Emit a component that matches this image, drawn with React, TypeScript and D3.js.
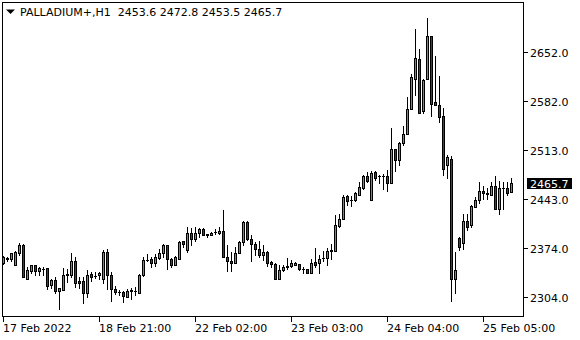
import React from "react";
import * as d3 from "d3";

const SYMBOL = "PALLADIUM+,H1";
const LAST_OHLC = ["2453.6", "2472.8", "2453.5", "2465.7"];

const OPEN = [
  2351.5, 2358.2, 2358.2, 2349.6, 2366.7, 2377.2, 2329.7, 2341.1, 2348.7, 2341.1,
  2343.0, 2344.9, 2321.1, 2327.8, 2311.6, 2313.5, 2335.4, 2334.4, 2354.4, 2326.8,
  2326.8, 2309.7, 2336.3, 2333.0, 2335.4, 2329.7, 2367.7, 2334.4, 2315.4, 2310.2,
  2310.7, 2304.0, 2311.6, 2312.6, 2309.7, 2335.4, 2356.3, 2357.2, 2352.5, 2359.1,
  2366.7, 2377.2, 2357.2, 2349.6, 2358.2, 2382.8, 2370.5, 2394.3, 2385.7, 2394.3,
  2399.9, 2392.4, 2392.4, 2395.7, 2395.2, 2398.0, 2360.1, 2355.3, 2351.5, 2365.8,
  2381.9, 2410.4, 2386.7, 2379.1, 2372.4, 2362.9, 2367.7, 2353.4, 2350.6, 2328.7,
  2342.0, 2345.8, 2347.7, 2349.6, 2350.6, 2343.0, 2343.0, 2337.3, 2353.4, 2351.5,
  2358.8, 2359.1, 2369.6, 2369.6, 2404.7, 2415.1, 2447.4, 2441.5, 2441.7, 2449.3,
  2458.8, 2475.9, 2441.7, 2481.6, 2475.9, 2475.7, 2475.9, 2466.4, 2513.9, 2498.7,
  2523.4, 2535.7, 2571.8, 2614.5, 2642.0, 2568.9, 2613.5, 2675.2, 2581.3, 2576.5,
  2561.3, 2491.1, 2499.6, 2329.7, 2387.6, 2380.0, 2411.4, 2405.7, 2432.2, 2441.7,
  2454.1, 2450.3, 2449.3, 2461.7, 2429.4, 2458.6, 2458.8, 2453.6,
];
const HIGH = [
  2362.0, 2361.0, 2366.7, 2369.6, 2381.0, 2379.1, 2345.8, 2349.6, 2349.6, 2345.8,
  2345.8, 2344.9, 2329.7, 2332.5, 2316.4, 2344.9, 2343.0, 2365.8, 2360.1, 2332.5,
  2332.5, 2342.0, 2339.2, 2339.2, 2339.2, 2370.5, 2372.4, 2339.2, 2319.2, 2313.5,
  2311.6, 2315.4, 2316.4, 2318.3, 2336.3, 2361.0, 2364.8, 2361.0, 2364.8, 2372.4,
  2379.1, 2377.2, 2359.1, 2362.0, 2382.8, 2383.8, 2403.7, 2401.8, 2403.7, 2401.8,
  2401.8, 2393.3, 2396.1, 2400.9, 2402.8, 2427.5, 2377.2, 2367.7, 2374.3, 2383.8,
  2411.3, 2411.3, 2391.4, 2381.9, 2382.8, 2377.2, 2369.6, 2355.3, 2351.5, 2348.7,
  2348.7, 2359.1, 2356.3, 2353.4, 2350.6, 2346.8, 2344.0, 2357.2, 2373.4, 2362.9,
  2368.6, 2373.4, 2379.1, 2420.8, 2421.8, 2448.4, 2448.4, 2447.4, 2453.1, 2467.3,
  2476.8, 2481.6, 2483.5, 2483.5, 2477.8, 2478.7, 2484.4, 2544.2, 2514.8, 2524.3,
  2547.1, 2587.9, 2621.1, 2685.7, 2656.3, 2613.5, 2700.9, 2675.2, 2646.8, 2618.3,
  2572.7, 2505.3, 2504.4, 2367.7, 2389.5, 2421.8, 2421.8, 2435.1, 2445.5, 2467.4,
  2461.7, 2458.8, 2467.4, 2475.9, 2468.3, 2467.4, 2467.4, 2472.8,
];
const LOW = [
  2350.6, 2355.3, 2355.3, 2349.6, 2363.9, 2332.5, 2329.7, 2338.2, 2335.4, 2335.4,
  2335.4, 2315.4, 2316.4, 2308.8, 2286.9, 2313.5, 2324.9, 2332.5, 2317.3, 2316.4,
  2295.5, 2303.1, 2326.8, 2330.6, 2329.7, 2323.0, 2315.4, 2298.3, 2307.8, 2305.9,
  2296.4, 2304.0, 2301.2, 2306.9, 2309.7, 2333.5, 2354.4, 2346.8, 2347.7, 2358.2,
  2360.1, 2343.9, 2345.8, 2349.6, 2358.2, 2375.3, 2367.7, 2377.2, 2383.8, 2389.5,
  2391.4, 2389.5, 2391.4, 2393.3, 2393.3, 2360.1, 2340.1, 2340.1, 2351.5, 2365.8,
  2378.1, 2384.8, 2355.3, 2363.9, 2361.0, 2356.3, 2347.7, 2345.8, 2328.7, 2328.7,
  2341.1, 2344.0, 2346.8, 2349.6, 2342.1, 2338.3, 2337.3, 2337.3, 2346.8, 2338.3,
  2354.4, 2349.6, 2358.2, 2369.6, 2403.8, 2415.1, 2435.1, 2433.2, 2439.8, 2449.3,
  2457.9, 2467.3, 2441.7, 2470.2, 2466.4, 2456.9, 2455.0, 2466.4, 2483.5, 2492.0,
  2519.6, 2535.7, 2571.8, 2590.8, 2565.1, 2565.1, 2613.5, 2561.3, 2576.5, 2552.8,
  2476.9, 2473.1, 2297.5, 2309.8, 2370.5, 2371.5, 2399.0, 2403.8, 2431.3, 2437.9,
  2443.6, 2442.7, 2448.4, 2429.4, 2421.8, 2429.4, 2448.4, 2453.5,
];
const CLOSE = [
  2360.1, 2359.1, 2365.8, 2367.7, 2377.2, 2332.5, 2342.0, 2348.7, 2341.1, 2344.9,
  2343.4, 2319.2, 2327.8, 2311.6, 2316.4, 2334.4, 2335.9, 2354.4, 2324.0, 2324.0,
  2309.7, 2335.4, 2332.5, 2333.3, 2337.3, 2367.7, 2334.4, 2315.4, 2310.7, 2310.5,
  2305.0, 2312.6, 2313.5, 2312.8, 2335.4, 2356.3, 2356.6, 2352.5, 2360.1, 2365.8,
  2377.2, 2357.2, 2349.6, 2360.1, 2381.9, 2379.1, 2394.3, 2386.7, 2394.3, 2399.9,
  2392.4, 2392.6, 2395.2, 2395.9, 2398.0, 2360.1, 2355.3, 2351.5, 2366.7, 2381.9,
  2410.4, 2386.7, 2379.1, 2372.4, 2362.9, 2367.7, 2352.5, 2350.6, 2328.7, 2342.0,
  2345.8, 2347.7, 2351.5, 2352.5, 2343.0, 2343.2, 2338.3, 2352.5, 2349.6, 2358.2,
  2359.1, 2369.6, 2369.8, 2405.7, 2415.1, 2446.5, 2440.8, 2441.7, 2451.2, 2459.8,
  2475.9, 2469.2, 2479.7, 2473.0, 2476.1, 2475.9, 2466.4, 2513.9, 2498.7, 2522.4,
  2535.7, 2570.8, 2616.4, 2643.9, 2565.1, 2612.6, 2675.2, 2578.4, 2576.5, 2560.4,
  2486.4, 2502.5, 2329.7, 2342.1, 2374.3, 2411.4, 2403.8, 2433.2, 2441.7, 2454.1,
  2451.2, 2452.2, 2461.7, 2429.4, 2458.8, 2458.8, 2452.2, 2465.7,
];

const Y_TICKS = [2652.0, 2582.0, 2513.0, 2443.0, 2374.0, 2304.0];
const X_TICK_INDEX = [0, 24, 48, 72, 96, 120];
const X_TICK_LABELS = [
  "17 Feb 2022",
  "18 Feb 21:00",
  "22 Feb 02:00",
  "23 Feb 03:00",
  "24 Feb 04:00",
  "25 Feb 05:00",
];
const CURRENT_PRICE = 2465.7;

const W = 580;
const H = 340;
const FRAME = { left: 2, top: 2, right: 523, bottom: 316 };
const UP = "#00DD00";
const DOWN = "#DD0000";
const FONT = "'DejaVu Sans', Tahoma, sans-serif";

export default function App() {
  const x = d3.scaleLinear().domain([0, OPEN.length - 1]).range([3.5, 511.5]);
  const y = d3.scaleLinear().domain([2304, 2652]).range([296.7, 52.3]);

  const candles = OPEN.map((o, i) => {
    const c = CLOSE[i];
    const xc = x(i);
    const yH = Math.round(y(HIGH[i]));
    const yL = Math.round(y(LOW[i]));
    const top = Math.round(y(Math.max(o, c)));
    const bot = Math.round(y(Math.min(o, c)));
    const up = c >= o;
    return (
      <g key={i}>
        <rect x={xc - 0.5} y={yH} width={1} height={yL - yH + 1} fill="#000" />
        <rect x={xc - 1.5} y={top} width={3} height={bot - top + 1} fill="#000" />
        {bot - top >= 2 && (
          <rect x={xc - 0.5} y={top + 1} width={1} height={bot - top - 1} fill={up ? UP : DOWN} />
        )}
      </g>
    );
  });

  const cy = Math.round(y(CURRENT_PRICE));

  return (
    <svg
      width={W}
      height={H}
      style={{ position: "absolute", left: 0, top: 0, background: "#fff" }}
      shapeRendering="crispEdges"
      fontFamily={FONT}
      fontSize={11}
    >
      <rect x={0} y={0} width={W} height={H} fill="#fff" />
      {candles}
      <rect
        x={FRAME.left + 0.5}
        y={FRAME.top + 0.5}
        width={FRAME.right - FRAME.left}
        height={FRAME.bottom - FRAME.top}
        fill="none"
        stroke="#000"
      />
      {Y_TICKS.map((v) => {
        const ty = Math.round(y(v));
        return (
          <g key={v}>
            <rect x={FRAME.right + 1} y={ty} width={4} height={1} fill="#000" />
            <text x={530} y={ty + 4.5} fill="#000">
              {v.toFixed(1)}
            </text>
          </g>
        );
      })}
      <rect x={527} y={cy - 5} width={45} height={11} fill="#000" />
      <text x={530} y={cy + 4.5} fill="#fff">
        {CURRENT_PRICE.toFixed(1)}
      </text>
      {X_TICK_INDEX.map((idx, k) => {
        const tx = x(idx);
        return (
          <g key={idx}>
            <rect x={tx - 0.5} y={FRAME.bottom + 1} width={1} height={5} fill="#000" />
            <text x={tx - 0.5} y={332} fill="#000">
              {X_TICK_LABELS[k]}
            </text>
          </g>
        );
      })}
      <polygon points="6,9.5 15,9.5 10.5,14" fill="#000" shapeRendering="auto" />
      <text x={20} y={16} fill="#000" xmlSpace="preserve">
        {SYMBOL + "  " + LAST_OHLC.join(" ")}
      </text>
    </svg>
  );
}
